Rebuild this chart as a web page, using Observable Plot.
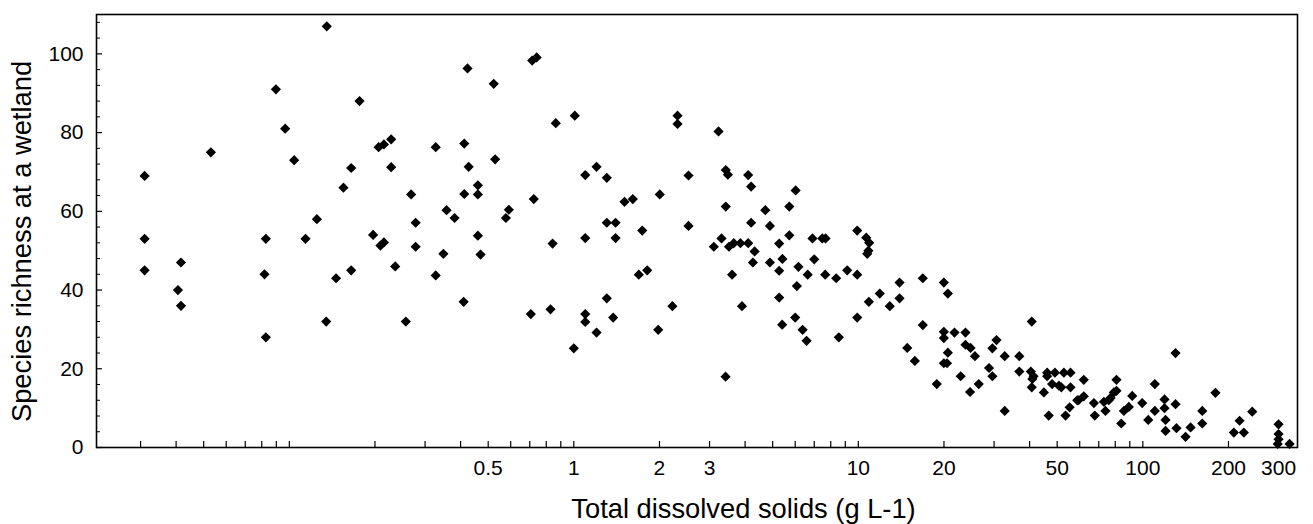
<!DOCTYPE html>
<html>
<head>
<meta charset="utf-8">
<script src="https://cdn.jsdelivr.net/npm/d3@7"></script>
<script src="https://cdn.jsdelivr.net/npm/@observablehq/plot@0.6"></script>
<style>
  html, body { margin: 0; padding: 0; background: #fff; }
  #chart svg { display: block; }
</style>
</head>
<body>
<div id="chart"></div>
<script>
// Total dissolved solids (g L-1)
const tds = [
  0.031,0.031,0.031,0.0416,0.0406,0.0416,0.053,0.0818,0.0827,0.0827,
  0.0897,0.0967,0.104,0.114,0.125,0.1354,0.1348,0.146,0.155,0.165,
  0.165,0.1765,0.197,0.206,0.215,0.228,0.209,0.215,0.228,0.2356,
  0.2567,0.268,0.278,0.278,0.327,0.327,0.357,0.348,0.381,0.41,
  0.412,0.412,0.423,0.427,0.46,0.46,0.46,0.47,0.523,0.529,
  0.577,0.591,0.706,0.714,0.74,0.723,0.828,0.842,0.864,1.0,
  1.008,1.097,1.097,1.097,1.097,1.202,1.202,1.306,1.306,1.306,
  1.375,1.402,1.402,1.507,1.612,1.692,1.74,1.811,1.98,2.005,
  2.22,2.315,2.315,2.53,2.53,3.105,3.226,3.305,3.415,3.42,
  3.48,3.42,3.51,3.6,3.65,3.85,3.9,4.1,4.1,4.2,
  4.2,4.26,4.32,4.71,4.89,4.89,5.27,5.27,5.27,5.41,
  5.4,5.72,5.72,6.02,6.0,6.08,6.16,6.37,6.58,6.64,
  6.9,7.0,7.47,7.67,7.65,8.36,8.54,9.14,9.91,9.91,
  9.91,10.66,10.92,10.85,10.75,10.89,11.9,12.9,13.96,13.96,
  14.86,15.8,16.85,16.85,18.87,19.98,20.64,19.98,19.98,20.64,
  19.98,20.5,21.78,23.8,23.8,24.8,25.7,22.9,24.7,26.5,
  28.8,29.6,29.6,30.6,32.7,32.7,36.8,36.8,40.7,40.4,
  41.3,40.9,40.7,44.9,46.7,46.1,46.1,49.1,52.8,55.7,
  48.0,50.7,51.7,55.7,53.5,55.3,59.4,62.0,58.8,62.0,
  67.3,67.8,73.9,73.0,75.9,77.0,80.8,79.1,80.8,84.0,
  85.8,89.3,91.8,99.5,104.5,110.2,110.2,119.2,119.2,120.2,
  120.2,130.3,130.3,131.3,141.3,147.2,161.8,161.8,180,208.9,
  226.5,218.8,242.4,300,300,300,298,328
];
// Species richness at a wetland
const richness = [
  69,53,45,47,40,36,75,44,53,28,
  91,81,73,53,58,107,32,43,66,71,
  45,88,54,76.3,77,78.3,51.3,52.1,71.2,46,
  32,64.3,57.1,51,76.3,43.7,60.3,49.2,58.3,37,
  77.2,64.4,96.3,71.3,66.6,64.3,53.8,49,92.4,73.2,
  58.3,60.4,33.9,98.3,99.1,63.1,35.1,51.8,82.4,25.2,
  84.3,69.2,53.2,33.9,31.9,71.3,29.2,68.5,57.1,37.9,
  33,57.1,53.2,62.4,63.1,43.9,55.1,45,29.9,64.3,
  35.9,84.3,82.2,69.1,56.3,51,80.3,53.1,18,70.5,
  69.3,61.2,51,43.9,51.9,51.9,35.9,69.2,51.9,66.3,
  57.1,47,49.8,60.3,56.3,47,51.8,44.9,38.1,47.9,
  31.2,61.2,53.9,65.3,33,41,45.9,29.9,27.1,43.9,
  53.1,47.8,53.1,53.1,43.9,43,28,45,55.1,43.9,
  33,53.3,52,50,49.2,37,39.1,35.9,41.9,37.9,
  25.3,22,43,31.1,16.1,41.9,39.1,29.4,27.8,24.1,
  21.4,21.4,29.2,29.2,26.1,25.3,23.2,18.1,14.1,16.1,
  20.2,18.1,25.2,27.3,23.2,9.3,23.2,19.3,32,19.3,
  18.1,17.4,15.3,14,8.1,19,18.1,19,19,19,
  16.1,15.7,15.3,15.3,8.1,10.2,12,17.2,12,13,
  11.3,8.1,9.3,11.6,12,12.6,17.2,14,14.4,6.1,
  9.3,10.3,13.1,11.3,7,9.3,16.1,12.2,10,7,
  4.2,24,11,4.9,2.7,5.1,9.3,6.1,13.9,3.8,
  3.8,6.8,9.1,5.9,3.4,2.1,0.9,0.9
];

const xTickLabels = [0.5, 1, 2, 3, 10, 20, 50, 100, 200, 300];
const xMinorTicks = [0.03,0.04,0.05,0.06,0.07,0.08,0.09,
  0.1,0.2,0.3,0.4,0.5,0.6,0.7,0.8,0.9,
  1,2,3,4,5,6,7,8,9,
  10,20,30,40,50,60,70,80,90,
  100,200,300];
const yTickLabels = [0, 20, 40, 60, 80, 100];
const yMinorTicks = [4,8,12,16,24,28,32,36,44,48,52,56,64,68,72,76,84,88,92,96,104,108];

const xTitle = "Total dissolved solids (g L-1)";
const yTitle = "Species richness at a wetland";

const data = tds.map((x, i) => ({x, y: richness[i]}));

const W = 1313, H = 524;
const mL = 96, mR = 16, mT = 14, mB = 77;
const plotW = W - mL - mR, plotH = H - mT - mB;
const font = "'Liberation Sans', Arial, Helvetica, sans-serif";

const chart = Plot.plot({
  width: W,
  height: H,
  marginLeft: mL,
  marginRight: mR,
  marginTop: mT,
  marginBottom: mB,
  style: {fontFamily: font, background: "#fff", color: "#000", overflow: "visible"},
  x: {type: "log", domain: [0.021, 349.7], axis: null},
  y: {domain: [0, 110]},
  marks: [
    Plot.frame({stroke: "#000", strokeWidth: 1.6}),
    Plot.ruleX(xMinorTicks, {x: d => d, insetTop: plotH - 6, stroke: "#000", strokeWidth: 1.2}),
    Plot.ruleY(yTickLabels, {y: d => d, insetRight: plotW - 6, stroke: "#000", strokeWidth: 1.2}),
    Plot.ruleY(yMinorTicks, {y: d => d, insetRight: plotW - 4, stroke: "#000", strokeWidth: 1}),
    Plot.text(xTickLabels, {x: d => d, text: d => String(d), frameAnchor: "bottom", lineAnchor: "top", textAnchor: "middle", dy: 13, fontSize: 21, fill: "#000"}),
    Plot.axisY({ticks: yTickLabels, tickSize: 0, tickPadding: 13, tickFormat: d => String(d), fontSize: 21, label: null, fill: "#000"}),
    Plot.dot(data, {x: "x", y: "y", symbol: "diamond2", r: 4.6, fill: "#000", stroke: "none"}),
    Plot.text([xTitle], {frameAnchor: "bottom", lineAnchor: "middle", textAnchor: "middle", dx: 743 - (mL + plotW / 2), dy: 62, fontSize: 27.3, fill: "#000", text: d => d}),
    Plot.text([yTitle], {frameAnchor: "left", lineAnchor: "middle", textAnchor: "middle", dx: 22 - mL, dy: 10.5, rotate: -90, fontSize: 27.3, fill: "#000", text: d => d})
  ]
});

document.getElementById("chart").appendChild(chart);
</script>
</body>
</html>
